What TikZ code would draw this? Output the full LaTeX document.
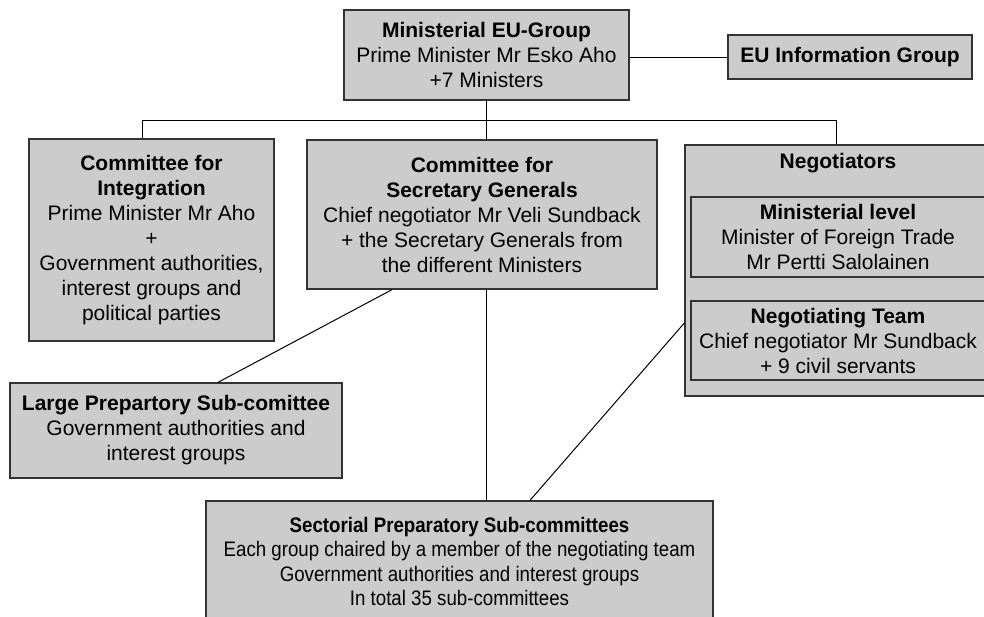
\documentclass[tikz,border=0pt]{standalone}
\usepackage{fontspec}
\setmainfont{Liberation Sans}
\newfontfamily\narrowfont[FakeStretch=0.89]{Liberation Sans}
\begin{document}
\begin{tikzpicture}[x=1pt,y=-1pt,
  box/.style={draw=black!80,line width=1.3pt,fill=black!20,inner sep=0pt,align=center,
    font=\fontsize{21}{25}\selectfont},
  conn/.style={draw=black,line width=1pt}]
\useasboundingbox (0,0) rectangle (984,616);
\begin{scope}
\clip (0,0) rectangle (984,616);
\node[box,minimum width=285pt,minimum height=90pt] (top) at (486.5,55)
  {\textbf{Ministerial EU-Group}\\Prime Minister Mr Esko Aho\\+7 Ministers};
\node[box,minimum width=244pt,minimum height=44pt] (info) at (850,57)
  {\textbf{EU Information Group}};
\node[box,minimum width=245pt,minimum height=202pt] (integ) at (151.5,240)
  {\textbf{Committee for}\\\textbf{Integration}\\Prime Minister Mr Aho\\+\\Government authorities,\\interest groups and\\political parties};
\node[box,minimum width=350pt,minimum height=149pt] (secgen) at (482,214.5)
  {\textbf{Committee for}\\\textbf{Secretary Generals}\\Chief negotiator Mr Veli Sundback\\+ the Secretary Generals from\\the different Ministers};
\node[box,minimum width=303pt,minimum height=251pt] (neg) at (836.5,270.5) {};
\node[font=\fontsize{21}{25}\selectfont\bfseries,anchor=north] (negtitle) at (838,150) {Negotiators};
\node[box,minimum width=294pt,minimum height=80pt] (minlev) at (838,237)
  {\textbf{Ministerial level}\\Minister of Foreign Trade\\Mr Pertti Salolainen};
\node[box,minimum width=294pt,minimum height=79pt] (negteam) at (838,340.5)
  {\textbf{Negotiating Team}\\Chief negotiator Mr Sundback\\+ 9 civil servants};
\node[box,minimum width=332pt,minimum height=95pt] (large) at (176,430.5)
  {\textbf{Large Prepartory Sub-comittee}\\Government authorities and\\interest groups};
\node[box,minimum width=507pt,minimum height=121pt,font=\narrowfont\fontsize{21}{24.5}\selectfont] (sect) at (459.5,561.5)
  {\textbf{Sectorial Preparatory Sub-committees}\\Each group chaired by a member of the negotiating team\\Government authorities and interest groups\\In total 35 sub-committees};
\end{scope}
\coordinate (busL) at (142,120);
\coordinate (busM) at (486.5,120);
\coordinate (busR) at (836.5,120);
\draw[conn] (info.west -| top.east) -- (info.west);
\draw[conn] (top.south -| busM) -- (busM);
\draw[conn] (busL) -- (busR);
\draw[conn] (busL) -- (integ.north -| busL);
\draw[conn] (busM) -- (secgen.north -| busM);
\draw[conn] (busR) -- (neg.north -| busR);
\draw[conn] ([xshift=-90pt]secgen.south) -- ([xshift=42pt]large.north);
\draw[conn] (secgen.south -| busM) -- (sect.north -| busM);
\draw[conn] ([yshift=-52.5pt]neg.west) -- ([xshift=70.5pt]sect.north);
\end{tikzpicture}
\end{document}
